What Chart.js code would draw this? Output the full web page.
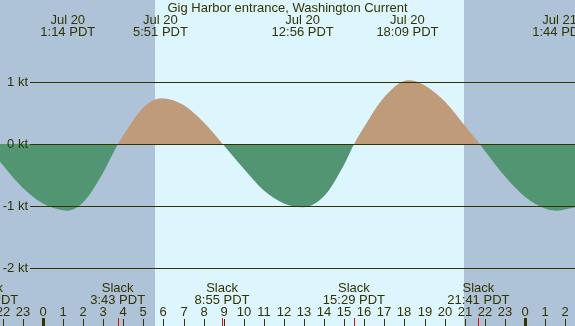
<!DOCTYPE html>
<html lang="en">
<head>
  <meta charset="UTF-8" />
  <title>Gig Harbor entrance, Washington Current</title>
  <script src="https://cdn.jsdelivr.net/npm/chart.js"></script>
  <style>
    body {
      margin: 0;
      background-color: #aec2d8;
      overflow: hidden;
    }
    canvas {
      display: block;
    }
  </style>
</head>
<body>
  <canvas id="currentChart" width="575" height="326"></canvas>
  <script>
    // hours after midnight Jul 20 (PDT) and current speed in knots
    const hours = [-2.14, -2, -1, 0, 1, 1.2, 2, 3, 3.73, 4, 5, 5.9, 7, 8, 8.95, 10, 11, 12, 12.96, 14, 15, 15.49, 16, 17, 18.2, 19, 20, 21, 21.75, 22, 23, 24, 25, 25.6, 26.5];
    const speeds = [-0.28, -0.34, -0.71, -0.96, -1.07, -1.075, -0.94, -0.46, 0, 0.14, 0.59, 0.74, 0.63, 0.35, 0, -0.40, -0.75, -0.96, -1.02, -0.84, -0.33, 0, 0.28, 0.76, 1.03, 0.95, 0.69, 0.30, 0, -0.11, -0.52, -0.85, -1.04, -1.075, -1.02];

    // max flood / max ebb labels (top)
    const peakHours = [1.233, 5.85, 12.933, 18.15, 25.733];
    const peakDates = ["Jul 20", "Jul 20", "Jul 20", "Jul 20", "Jul 21"];
    const peakTimes = ["1:14 PDT", "5:51 PDT", "12:56 PDT", "18:09 PDT", "1:44 PDT"];

    // slack water labels (bottom)
    const slackHours = [-2.78, 3.717, 8.917, 15.483, 21.683];
    const slackTimes = ["21:13 PDT", "3:43 PDT", "8:55 PDT", "15:29 PDT", "21:41 PDT"];

    const levelValues = [1, 0, -1, -2];
    const levelLabels = ["1 kt", "0 kt", "-1 kt", "-2 kt"];

    const sunrise = 5.58;
    const sunset = 20.97;
    const hourTicks = [-2, -1, 0, 1, 2, 3, 4, 5, 6, 7, 8, 9, 10, 11, 12, 13, 14, 15, 16, 17, 18, 19, 20, 21, 22, 23, 24, 25, 26];

    const xMin = -2.1414, xMax = 26.494;
    const yMin = -2.935, yMax = 2.323;

    const ink = "#333300";
    const font = "13px 'Liberation Sans', Arial, sans-serif";

    const decorations = {
      id: "decorations",
      beforeDraw(chart) {
        const c = chart.ctx;
        const x = chart.scales.x;
        c.save();
        c.fillStyle = "#aec2d8";
        c.fillRect(0, 0, chart.width, chart.height);
        const x1 = x.getPixelForValue(sunrise);
        const x2 = x.getPixelForValue(sunset);
        c.fillStyle = "#ddf6fd";
        c.fillRect(Math.round(x1), 0, Math.round(x2) - Math.round(x1), chart.height);
        c.restore();
      },
      afterDatasetsDraw(chart) {
        const c = chart.ctx;
        const x = chart.scales.x;
        const y = chart.scales.y;
        c.save();
        c.fillStyle = ink;
        c.font = font;

        // level lines + labels
        levelValues.forEach((v, i) => {
          const py = Math.round(y.getPixelForValue(v));
          c.fillRect(30, py, chart.width - 30, 1);
          c.textAlign = "right";
          c.textBaseline = "middle";
          c.fillText(levelLabels[i], 28, py + 0.5);
        });

        c.textBaseline = "alphabetic";
        c.textAlign = "center";
        c.fillText("Gig Harbor entrance, Washington Current", chart.width / 2, 12);

        peakHours.forEach((h, i) => {
          const px = x.getPixelForValue(h);
          c.fillText(peakDates[i], px, 24);
          c.fillText(peakTimes[i], px, 36);
        });

        slackHours.forEach((h, i) => {
          const px = x.getPixelForValue(h);
          c.fillText("Slack", px, 292);
          c.fillText(slackTimes[i], px, 304);
        });

        // hour ticks
        hourTicks.forEach(h => {
          const px = Math.round(x.getPixelForValue(h));
          const label = String(((h % 24) + 24) % 24);
          c.fillText(label, px, 316);
          if (h % 24 === 0) {
            c.fillRect(px - 1, 318, 3, 8);
          } else {
            c.fillRect(px, 319, 1, 7);
          }
        });

        c.fillStyle = "#ff0000";
        slackHours.forEach(h => {
          const px = Math.round(x.getPixelForValue(h));
          c.fillRect(px, 318, 1, 8);
        });
        c.restore();
      }
    };

    new Chart(document.getElementById("currentChart"), {
      type: "line",
      data: {
        datasets: [{
          data: hours.map((h, i) => ({ x: h, y: speeds[i] })),
          borderColor: "transparent",
          borderWidth: 0,
          pointRadius: 0,
          cubicInterpolationMode: "monotone",
          fill: { target: "origin", above: "#bf9b7a", below: "#529572" }
        }]
      },
      options: {
        responsive: false,
        animation: false,
        devicePixelRatio: 1,
        layout: { padding: 0 },
        plugins: { legend: { display: false }, tooltip: { enabled: false } },
        scales: {
          x: { type: "linear", min: xMin, max: xMax, display: false },
          y: { min: yMin, max: yMax, display: false }
        }
      },
      plugins: [decorations]
    });
  </script>
</body>
</html>
